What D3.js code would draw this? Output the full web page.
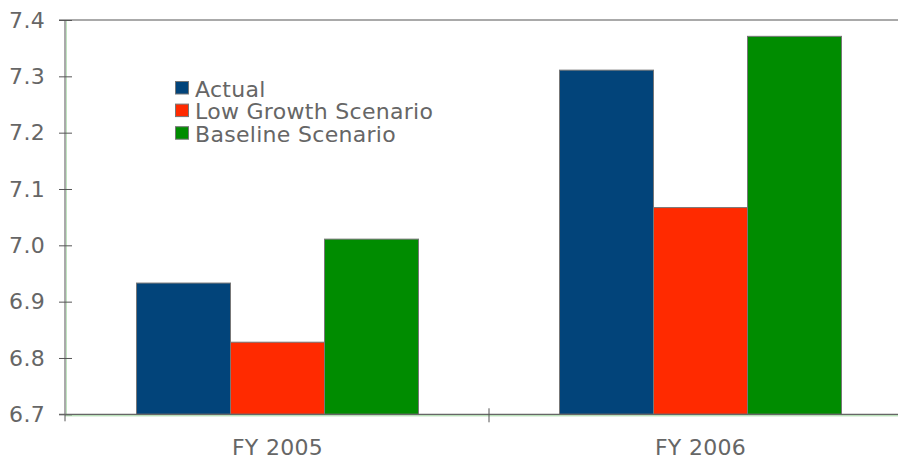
<!DOCTYPE html>
<html><head><meta charset="utf-8">
<script src="https://cdn.jsdelivr.net/npm/d3@7"></script>
<style>
html,body{margin:0;padding:0;background:#fff;}
text{font-family:Verdana,"DejaVu Sans",sans-serif;fill:#666;}
</style></head>
<body><svg id="c" width="898" height="461"></svg>
<script>
const categories = ["FY 2005", "FY 2006"];
const seriesNames = ["Actual", "Low Growth Scenario", "Baseline Scenario"];
const actual = [6.933, 7.311];
const lowGrowth = [6.828, 7.067];
const baseline = [7.011, 7.371];
const yTicks = [6.7, 6.8, 6.9, 7.0, 7.1, 7.2, 7.3, 7.4];
const colors = ["#02447A", "#FF2A00", "#008C00"];

(function () {
const series = [actual, lowGrowth, baseline];
const svg = d3.select("#c");
const pLeft = 65, pTop = 20, pBottom = 414.3;

const x0 = d3.scaleBand().domain(categories).range([66, 912]).paddingInner(0).paddingOuter(0);
const x1 = d3.scaleBand().domain(seriesNames).range([0, x0.bandwidth()]).paddingInner(0).paddingOuter(0.75);
const y = d3.scaleLinear().domain([6.7, 7.4]).range([pBottom, pTop]);

// faint green lines
svg.append("line").attr("x1", pLeft + 1.5).attr("x2", pLeft + 1.5).attr("y1", pTop).attr("y2", pBottom)
  .attr("stroke", "#bfe3bf").attr("stroke-width", 1);
svg.append("line").attr("x1", pLeft).attr("x2", 898).attr("y1", pBottom + 1.5).attr("y2", pBottom + 1.5)
  .attr("stroke", "#9fd49f").attr("stroke-width", 1);

// top border
svg.append("line").attr("x1", 59).attr("x2", 898).attr("y1", pTop).attr("y2", pTop)
  .attr("stroke", "#555").attr("stroke-width", 1);

// bars
const g = svg.append("g");
categories.forEach((c, i) => {
  series.forEach((s, j) => {
    g.append("rect")
      .attr("x", x0(c) + x1(seriesNames[j]))
      .attr("y", y(s[i]))
      .attr("width", x1.bandwidth())
      .attr("height", y(6.7) - y(s[i]))
      .attr("fill", colors[j])
      .attr("stroke", "#777").attr("stroke-width", 1);
  });
});

// y axis
const yAxis = d3.axisLeft(y).tickValues(yTicks).tickFormat(d3.format(".1f")).tickSizeInner(6).tickSizeOuter(0);
const ya = svg.append("g").attr("transform", `translate(${pLeft},0)`).call(yAxis);
ya.select(".domain").remove();
ya.selectAll(".tick line").attr("x1", -6).attr("x2", 7).attr("stroke", "#555");
ya.selectAll(".tick text").attr("x", -20).attr("font-size", 22).attr("fill", "#666")
  .style("font-family", "Verdana, 'DejaVu Sans', sans-serif").style("letter-spacing", "0.3px");
svg.append("line").attr("x1", pLeft).attr("x2", pLeft).attr("y1", pTop).attr("y2", pBottom + 7)
  .attr("stroke", "#555");

// x axis
svg.append("line").attr("x1", pLeft - 6).attr("x2", 898).attr("y1", pBottom).attr("y2", pBottom)
  .attr("stroke", "#666").attr("stroke-width", 1.2);
const bounds = categories.slice(1).map(c => x0(c));
bounds.forEach(b => {
  svg.append("line").attr("x1", b).attr("x2", b).attr("y1", pBottom - 6).attr("y2", pBottom + 8).attr("stroke", "#555");
});
categories.forEach(c => {
  svg.append("text").attr("x", x0(c) + x0.bandwidth() / 2).attr("y", 455)
    .attr("text-anchor", "middle").attr("font-size", 22).style("letter-spacing", "0.3px").text(c);
});

// legend
const leg = svg.append("g");
seriesNames.forEach((n, j) => {
  const yy = 81.5 + j * 22.6;
  leg.append("rect").attr("x", 175.5).attr("y", yy).attr("width", 13).attr("height", 12.5)
    .attr("fill", colors[j]).attr("stroke", "#777").attr("stroke-width", 1);
  leg.append("text").attr("x", 195).attr("y", yy + 15).attr("font-size", 22)
    .style("letter-spacing", "0.3px").text(n);
});
})();
</script></body></html>
